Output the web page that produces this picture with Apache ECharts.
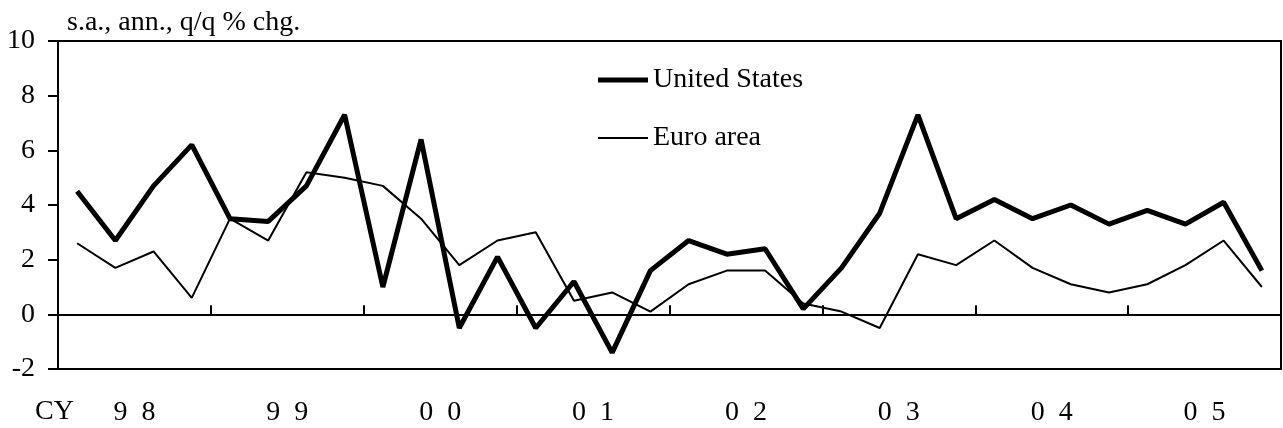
<!DOCTYPE html>
<html>
<head>
<meta charset="utf-8">
<script src="https://cdn.jsdelivr.net/npm/echarts@6/dist/echarts.min.js"></script>
<style>
  html, body { margin: 0; padding: 0; background: #fff; }
  #chart { width: 1283px; height: 428px; }
</style>
</head>
<body>
<div id="chart"></div>
<script>
// quarters 1998Q1 .. 2005Q4
const quarters = [
  '98Q1', '98Q2', '98Q3', '98Q4', '99Q1', '99Q2', '99Q3', '99Q4',
  '00Q1', '00Q2', '00Q3', '00Q4', '01Q1', '01Q2', '01Q3', '01Q4',
  '02Q1', '02Q2', '02Q3', '02Q4', '03Q1', '03Q2', '03Q3', '03Q4',
  '04Q1', '04Q2', '04Q3', '04Q4', '05Q1', '05Q2', '05Q3', '05Q4'
];
const yearLabels = ['9  8', '9  9', '0  0', '0  1', '0  2', '0  3', '0  4', '0  5'];

const unitedStates = [
  4.5, 2.7, 4.7, 6.2, 3.5, 3.4, 4.7, 7.3,
  1.0, 6.4, -0.5, 2.1, -0.5, 1.2, -1.4, 1.6,
  2.7, 2.2, 2.4, 0.2, 1.7, 3.7, 7.3, 3.5,
  4.2, 3.5, 4.0, 3.3, 3.8, 3.3, 4.1, 1.6
];
const euroArea = [
  2.6, 1.7, 2.3, 0.6, 3.5, 2.7, 5.2, 5.0,
  4.7, 3.5, 1.8, 2.7, 3.0, 0.5, 0.8, 0.1,
  1.1, 1.6, 1.6, 0.4, 0.1, -0.5, 2.2, 1.8,
  2.7, 1.7, 1.1, 0.8, 1.1, 1.8, 2.7, 1.0
];

const FONT = 'Liberation Serif';
const FS = 28;

const myChart = echarts.init(document.getElementById('chart'));

const option = {
  animation: false,
  backgroundColor: '#fff',
  title: {
    text: 's.a., ann., q/q % chg.',
    left: 67,
    top: 9,
    padding: 0,
    textStyle: { fontFamily: FONT, fontSize: FS, fontWeight: 'normal', color: '#000' }
  },
  legend: [
    {
      data: ['United States'],
      left: 598,
      top: 66,
      padding: 0,
      icon: 'rect',
      itemWidth: 50,
      itemHeight: 5,
      itemGap: 0,
      textStyle: { fontFamily: FONT, fontSize: FS, color: '#000' }
    },
    {
      data: ['Euro area'],
      left: 598,
      top: 124,
      padding: 0,
      icon: 'rect',
      itemWidth: 50,
      itemHeight: 2,
      itemGap: 0,
      textStyle: { fontFamily: FONT, fontSize: FS, color: '#000' }
    }
  ],
  graphic: [
    {
      type: 'text',
      left: 35,
      top: 398,
      style: { text: 'CY', font: FS + 'px "' + FONT + '"', fill: '#000' }
    }
  ],
  grid: {
    left: 58,
    right: 2,
    top: 41,
    bottom: 59,
    show: true,
    borderColor: '#000',
    borderWidth: 2,
    containLabel: false
  },
  xAxis: [
    {
      type: 'category',
      data: quarters,
      boundaryGap: true,
      axisLine: { show: true, lineStyle: { color: '#000', width: 2 } },
      axisTick: { show: true, inside: true, length: 9, interval: 3, lineStyle: { color: '#000', width: 2 } },
      axisLabel: { show: false },
      splitLine: { show: false }
    },
    {
      type: 'category',
      data: yearLabels,
      position: 'bottom',
      boundaryGap: true,
      axisLine: { show: false },
      axisTick: { show: false },
      axisLabel: {
        show: true,
        interval: 0,
        margin: 30,
        color: '#000',
        fontFamily: FONT,
        fontSize: FS
      },
      splitLine: { show: false }
    }
  ],
  yAxis: {
    type: 'value',
    min: -2,
    max: 10,
    interval: 2,
    axisLine: { show: true, lineStyle: { color: '#000', width: 2 } },
    axisTick: { show: true, inside: false, length: 10, lineStyle: { color: '#000', width: 2 } },
    axisLabel: { margin: 23, color: '#000', fontFamily: FONT, fontSize: FS },
    splitLine: { show: false }
  },
  series: [
    {
      name: 'Euro area',
      type: 'line',
      data: euroArea,
      symbol: 'none',
      color: '#000',
      lineStyle: { color: '#000', width: 2 },
      z: 3,
      markLine: {
        silent: true,
        symbol: 'none',
        label: { show: false },
        lineStyle: { color: '#000', width: 2, type: 'solid' },
        data: [{ yAxis: 0 }]
      }
    },
    {
      name: 'United States',
      type: 'line',
      data: unitedStates,
      symbol: 'none',
      color: '#000',
      lineStyle: { color: '#000', width: 5 },
      z: 4
    }
  ]
};

myChart.setOption(option);
</script>
</body>
</html>
